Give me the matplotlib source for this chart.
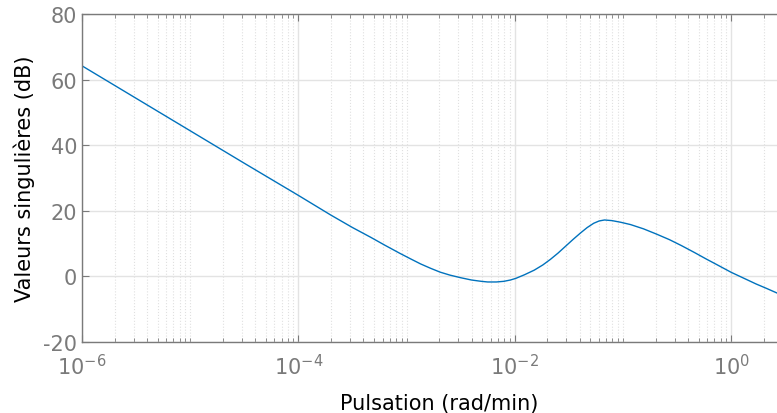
import numpy as np
import matplotlib.pyplot as plt
from matplotlib.ticker import NullFormatter

# Singular value curve (log10 of pulsation, gain in dB)
log_w = [-6.0, -5.5, -5.0, -4.5, -4.0, -3.7, -3.5, -3.33, -3.2, -3.06,
         -2.96, -2.87, -2.78, -2.69, -2.6, -2.5, -2.4, -2.31, -2.25, -2.17,
         -2.1, -2.04, -1.99, -1.91, -1.82, -1.74, -1.67, -1.6, -1.53, -1.46,
         -1.39, -1.33, -1.27, -1.22, -1.17, -1.10, -1.02, -0.93, -0.81, -0.69,
         -0.57, -0.46, -0.34, -0.23, -0.11, 0.0, 0.12, 0.23, 0.33, 0.44]
gain_db = [64.2, 54.3, 44.4, 34.5, 24.7, 18.7, 14.9, 11.9, 9.5, 7.0,
           5.3, 3.8, 2.5, 1.3, 0.4, -0.4, -1.1, -1.5, -1.7, -1.7,
           -1.5, -1.1, -0.6, 0.5, 1.9, 3.5, 5.2, 7.1, 9.2, 11.3,
           13.3, 14.9, 16.2, 16.9, 17.2, 17.0, 16.5, 15.8, 14.5, 12.9,
           11.2, 9.4, 7.3, 5.3, 3.2, 1.25, -0.6, -2.3, -3.7, -5.3]

major_x = [1e-6, 1e-4, 1e-2, 1e0]
major_x_labels = ['$10^{-6}$', '$10^{-4}$', '$10^{-2}$', '$10^{0}$']
y_ticks = [-20, 0, 20, 40, 60, 80]

plt.rcParams['mathtext.fontset'] = 'dejavusans'
plt.rcParams['mathtext.default'] = 'regular'
plt.rcParams['axes.unicode_minus'] = False

fig = plt.figure(figsize=(7.77, 4.14), dpi=100)
ax = fig.add_axes([0.1055, 0.1715, 0.8945, 0.7923])

w = 10.0 ** np.array(log_w)
ax.semilogx(w, gain_db, color='#0072BD', lw=1.0)

minor_x = [k * 10.0 ** e for e in range(-6, 1) for k in range(1, 10)
           if not (k == 1 and 10.0 ** e in major_x)]
ax.set_xticks(major_x)
ax.set_xticklabels(major_x_labels)
ax.set_xticks(minor_x, minor=True)
ax.xaxis.set_minor_formatter(NullFormatter())
ax.set_yticks(y_ticks)

# limits after the ticks, since set_xticks widens the view
ax.set_xlim(1e-6, 10 ** 0.424)
ax.set_ylim(-20, 80)

grey = '#7a7a7a'
ax.grid(True, which='major', color='#e3e3e3', lw=1.0, ls='-')
ax.grid(True, which='minor', axis='x', color='#e0e0e0', lw=0.8, ls=':')
ax.set_axisbelow(True)

for s in ax.spines.values():
    s.set_color(grey)
    s.set_linewidth(1.0)
ax.spines['right'].set_visible(False)

ax.tick_params(which='both', direction='in', top=True, right=False,
               colors=grey, labelsize=15)
ax.tick_params(which='major', length=5)
ax.tick_params(which='minor', length=3)
ax.tick_params(axis='x', pad=8)

ax.set_xlabel('Pulsation (rad/min)', fontsize=15, color='black')
ax.xaxis.set_label_coords(0.514, -0.155)
ax.set_ylabel('Valeurs singulières (dB)', fontsize=15, color='black', labelpad=6)

plt.savefig('out.png', dpi=100)
